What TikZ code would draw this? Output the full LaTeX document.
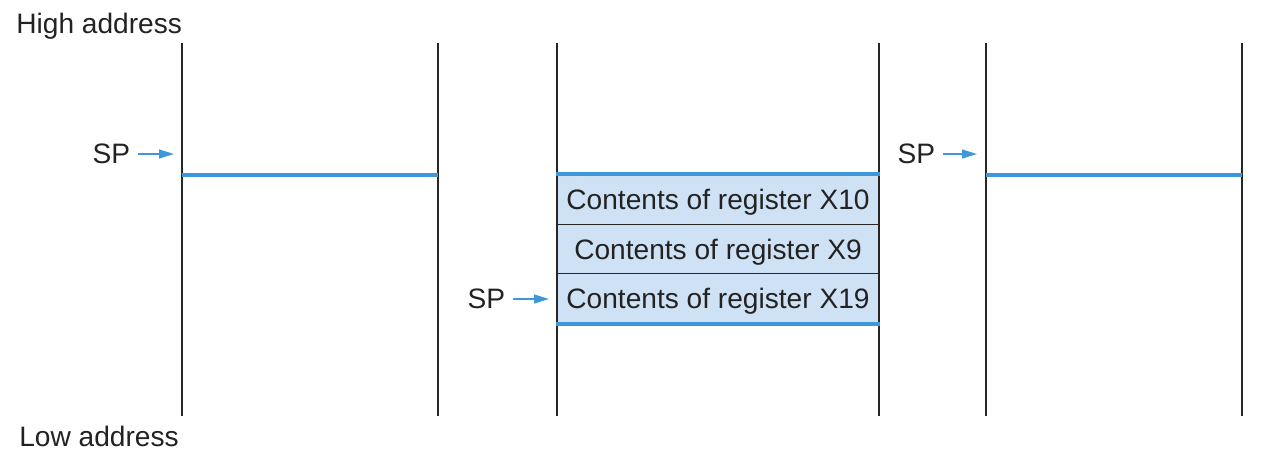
\documentclass[tikz,border=0pt]{standalone}
\usepackage{fontspec}
\setmainfont{Liberation Sans}
\usetikzlibrary{positioning, arrows.meta}
\definecolor{stackblue}{RGB}{62,150,219}
\definecolor{cellblue}{RGB}{207,226,245}
\definecolor{inktext}{RGB}{34,34,34}
\tikzset{
  framewall/.style={draw=black!85, line width=0.75pt},
  spline/.style={draw=stackblue, line width=2.3pt},
  regcell/.style={draw=black!85, line width=0.75pt, fill=cellblue, text=inktext,
    minimum width=6.44cm, minimum height=0.99cm, inner sep=0pt,
    text height=11.5pt, text depth=0pt, font=\fontsize{16}{19}\selectfont},
  splabel/.style={font=\fontsize{16}{19}\selectfont, text=inktext, inner sep=0pt, outer xsep=4.5pt, anchor=east},
  sparrow/.style={draw=stackblue, line width=1pt, -{Triangle[length=8.5pt, width=5pt]}},
  addrlabel/.style={font=\fontsize{16}{19}\selectfont, text=inktext, inner sep=0pt, anchor=base west}
}

\begin{document}
\begin{tikzpicture}[x=0.02cm, y=-0.02cm]
  \useasboundingbox (0,0) rectangle (1274,468);
  \node[addrlabel] (high) at (16,33) {High address};
  \node[addrlabel] (low) at (19,446) {Low address};
  % frame walls
  \foreach \x/\n in {182/a, 438/b, 557/c, 879/d, 986/e, 1242/f} {
    \coordinate (\n top) at (\x,43);
    \coordinate (\n bot) at (\x,416);
    \draw[framewall] (\n top) -- (\n bot);
  }
  % saved registers
  \node[regcell] (r1) at (718,199.5) {Contents of register X10};
  \node[regcell] (r2) at (718,249)   {Contents of register X9};
  \node[regcell] (r3) at (718,298.5) {Contents of register X19};
  % stack pointer lines
  \coordinate (s1l) at (182,175); \coordinate (s1r) at (438,175);
  \coordinate (s3l) at (986,175); \coordinate (s3r) at (1242,175);
  \draw[spline] (s1l) -- (s1r);
  \draw[spline] (r1.north west) -- (r1.north east);
  \draw[spline] (r3.south west) -- (r3.south east);
  \draw[spline] (s3l) -- (s3r);
  % SP arrows
  \node[splabel] (sp1) at (138,154) {SP};
  \node[splabel] (sp2) at (513,299) {SP};
  \node[splabel] (sp3) at (943,154) {SP};
  \coordinate (t1) at (174,154);
  \coordinate (t2) at (549,299);
  \coordinate (t3) at (977,154);
  \draw[sparrow] (sp1.east) -- (t1);
  \draw[sparrow] (sp2.east) -- (t2);
  \draw[sparrow] (sp3.east) -- (t3);
\end{tikzpicture}
\end{document}
